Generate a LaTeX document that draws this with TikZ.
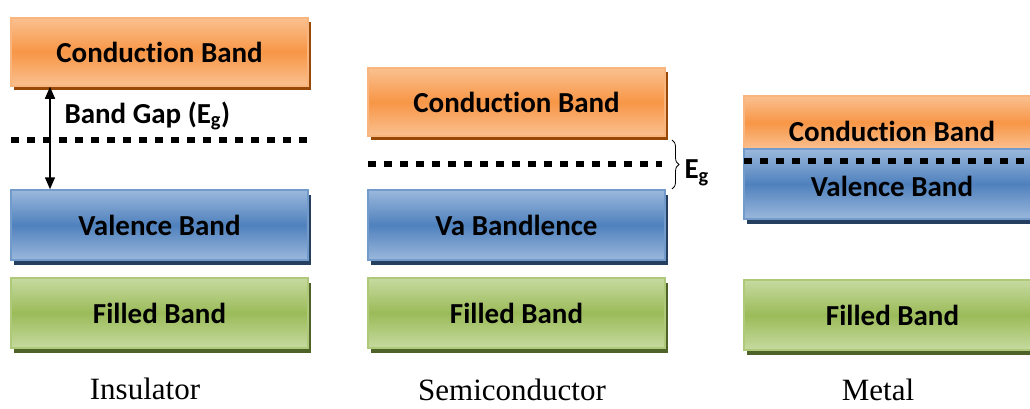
\documentclass[tikz,border=0pt]{standalone}
\usepackage{fontspec}
\setmainfont{Liberation Serif}
\newfontfamily\bandfont[Ligatures=NoCommon]{Carlito}
\usepackage{tikz}
\usetikzlibrary{positioning,arrows.meta,shadows,decorations.pathreplacing}
\definecolor{cbOrange}{HTML}{F79646}
\definecolor{cbOrangeLt}{HTML}{FAC090}
\definecolor{cbOrangeDk}{HTML}{984807}
\definecolor{vbBlue}{HTML}{4F81BD}
\definecolor{vbBlueLt}{HTML}{9BB8DC}
\definecolor{vbBlueDk}{HTML}{243F60}
\definecolor{fbGreen}{HTML}{9BBB59}
\definecolor{fbGreenLt}{HTML}{C6DAA0}
\definecolor{fbGreenDk}{HTML}{4F6228}

\begin{document}
\begin{tikzpicture}[x=1pt,y=-1pt,
    band/.style={rectangle,minimum width=297pt,inner sep=0pt,
      font=\bandfont\bfseries\fontsize{29}{32}\selectfont,line width=1.5pt},
    cond/.style={band,draw=cbOrange!70!white,top color=cbOrangeLt,bottom color=cbOrangeLt,middle color=cbOrange,
      drop shadow={shadow xshift=3pt,shadow yshift=-4pt,fill=cbOrangeDk,opacity=1}},
    val/.style={band,draw=vbBlue!80!white,top color=vbBlueLt,bottom color=vbBlueLt,middle color=vbBlue,
      drop shadow={shadow xshift=3pt,shadow yshift=-5pt,fill=vbBlueDk,opacity=1}},
    fill band/.style={band,draw=fbGreen!80!white,top color=fbGreenLt,bottom color=fbGreenLt,middle color=fbGreen,
      drop shadow={shadow xshift=3pt,shadow yshift=-5pt,fill=fbGreenDk,opacity=1}},
    fermi/.style={line width=6.5pt,dash pattern=on 8pt off 8pt},
    bandtxt/.style={font=\bandfont\bfseries\fontsize{29}{32}\selectfont},
    gaptxt/.style={font=\bandfont\bfseries\fontsize{29}{32}\selectfont},
    kind/.style={font=\fontsize{31}{34}\selectfont,inner sep=0pt}]

    \useasboundingbox (0,0) rectangle (1030,408);

    % Insulator
    \node [cond,minimum height=68pt] at (159.5,52) (icb) {Conduction Band};
    \node [val,minimum height=70pt] at (159.5,225) (ivb) {Valence Band};
    \node [fill band,minimum height=70pt] at (159.5,313) (ifb) {Filled Band};
    \draw [fermi] (11,140) -- (308,140);
    \draw [line width=1.5pt,{Triangle[width=10pt,length=12pt]}-{Triangle[width=10pt,length=12pt]}]
      ([xshift=-109.5pt]icb.south) -- ([xshift=-109.5pt]ivb.north);
    \node [gaptxt,anchor=west] at (61,116) (igap) {Band Gap (E\textsubscript{g})};
    \node [kind] at (145,389) (ins) {Insulator};

    % Semiconductor
    \node [cond,minimum height=68pt] at (516.5,102) (scb) {Conduction Band};
    \node [val,minimum height=70pt] at (516.5,225) (svb) {Va Bandlence};
    \node [fill band,minimum height=70pt] at (516.5,313) (sfb) {Filled Band};
    \draw [fermi] (368,164) -- (662,164);
    \coordinate (btop) at (672,140);
    \coordinate (bbot) at (672,189);
    \draw [thick,decorate,decoration={brace,amplitude=7pt}] (btop) -- (bbot);
    \node [gaptxt,anchor=west] at (681,173) (sgap) {E\textsubscript{g}};
    \node [kind] at (512,390) (semi) {Semiconductor};

    % Metal
    \node [cond,minimum height=53pt] at (892.5,122.5) (mcb) {};
    \node [val,minimum height=70pt] at (892.5,184) (mvb) {};
    \node [bandtxt] at (892,131) (mct) {Conduction Band};
    \node [bandtxt] at (892,186) (mvt) {Valence Band};
    \draw [fermi] (744,161) -- (1030,161);
    \node [fill band,minimum height=70pt] at (892.5,315) (mfb) {Filled Band};
    \node [kind] at (878,390) (met) {Metal};

\end{tikzpicture}
\end{document}
